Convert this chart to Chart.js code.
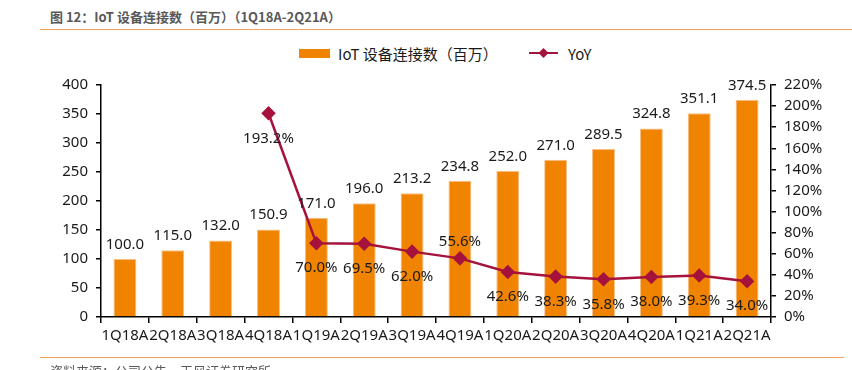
<!DOCTYPE html>
<html>
<head>
<meta charset="utf-8">
<script src="https://cdn.jsdelivr.net/npm/chart.js@4"></script>
<style>
  html, body { margin: 0; padding: 0; background: #fff; }
  #wrap { position: relative; width: 852px; height: 370px; overflow: hidden;
    font-family: "Noto Sans", "Noto Sans CJK SC", sans-serif; }
  #titulo { position: absolute; left: 50px; top: 7px; font-size: 13px; font-weight: bold; color: #595959;
    font-family: "Noto Sans CJK SC", sans-serif; }
  .linha { position: absolute; left: 40px; right: 0; height: 1px; background: #F2A25C; }
  #fonte { position: absolute; left: 50px; top: 361px; font-size: 13px; color: #595959;
    font-family: "Noto Sans CJK SC", sans-serif; }
  #legenda { position: absolute; top: 42px; left: 299px; font-size: 15px; color: #1a1a1a;
    font-family: "Noto Sans CJK SC", sans-serif; display: flex; align-items: center; height: 22px; }
  #legenda .caixa { width: 31px; height: 9px; background: #F08300; margin-right: 8px; }
  #legenda svg { margin-left: 31px; margin-right: 10px; }
  canvas { position: absolute; left: 0; top: 0; }
</style>
</head>
<body>
<div id="wrap">
  <div id="titulo">图 12：IoT 设备连接数（百万）（1Q18A-2Q21A）</div>
  <div class="linha" style="top:29px"></div>
  <div id="legenda">
    <span class="caixa"></span><span>IoT 设备连接数（百万）</span>
    <svg width="29" height="12"><line x1="0" y1="6" x2="29" y2="6" stroke="#A5133D" stroke-width="2"/><polygon points="14.5,1 19.5,6 14.5,11 9.5,6" fill="#A5133D"/></svg>
    <span>YoY</span>
  </div>
  <canvas id="grafico" width="852" height="370"></canvas>
  <div class="linha" style="top:357px; right:8px"></div>
  <div id="fonte">资料来源：公司公告，天风证券研究所</div>
</div>
<script>
const trimestres = ["1Q18A","2Q18A","3Q18A","4Q18A","1Q19A","2Q19A","3Q19A","4Q19A","1Q20A","2Q20A","3Q20A","4Q20A","1Q21A","2Q21A"];
const conexoes = [100.0, 115.0, 132.0, 150.9, 171.0, 196.0, 213.2, 234.8, 252.0, 271.0, 289.5, 324.8, 351.1, 374.5];
const yoy = [null, null, null, 193.2, 70.0, 69.5, 62.0, 55.6, 42.6, 38.3, 35.8, 38.0, 39.3, 34.0];
const ticksEsquerda = [0, 50, 100, 150, 200, 250, 300, 350, 400];
const ticksDireita = [0, 20, 40, 60, 80, 100, 120, 140, 160, 180, 200, 220];

const corTexto = "#1a1a1a";
const fonteNum = "Noto Sans";

// rótulos de valor desenhados à mão (sem plugin externo)
const rotulos = {
  id: "rotulos",
  afterDatasetsDraw(chart) {
    const c = chart.ctx;
    c.save();
    c.fillStyle = corTexto;
    c.font = "15px '" + fonteNum + "'";
    c.textAlign = "center";
    const barras = chart.getDatasetMeta(1).data;
    barras.forEach((b, i) => {
      c.textBaseline = "bottom";
      c.fillText(conexoes[i].toFixed(1), b.x, b.y - 7);
    });
    const pontos = chart.getDatasetMeta(0).data;
    pontos.forEach((p, i) => {
      if (yoy[i] == null) return;
      const txt = yoy[i].toFixed(1) + "%";
      if (i === 7) {
        c.textBaseline = "bottom";
        c.fillText(txt, p.x, p.y - 9);
      } else {
        c.textBaseline = "middle";
        c.fillText(txt, p.x, p.y + 25);
      }
    });
    c.restore();
  }
};

const ctx = document.getElementById("grafico").getContext("2d");
const chart = new Chart(ctx, {
  data: {
    labels: trimestres,
    datasets: [
      {
        type: "line",
        label: "YoY",
        data: yoy,
        yAxisID: "y2",
        borderColor: "#A5133D",
        backgroundColor: "#A5133D",
        borderWidth: 2.5,
        pointStyle: "rectRot",
        pointRadius: 5.5,
        pointHoverRadius: 5.5,
        tension: 0,
        order: 0
      },
      {
        type: "bar",
        label: "IoT 设备连接数（百万）",
        data: conexoes,
        yAxisID: "y",
        backgroundColor: "#F08300",
        borderColor: "#F7C089",
        borderWidth: { left: 1, right: 1, top: 1, bottom: 0 },
        barPercentage: 0.48,
        categoryPercentage: 1,
        order: 1
      }
    ]
  },
  options: {
    responsive: false,
    animation: false,
    layout: { padding: { top: 85, bottom: 23, left: 0, right: 0 } },
    plugins: { legend: { display: false }, tooltip: { enabled: false } },
    scales: {
      x: {
        offset: true,
        grid: { offset: true, drawOnChartArea: false, drawTicks: true, tickLength: 6, color: "#000", lineWidth: 1.5 },
        border: { color: "#000", width: 1.5 },
        ticks: { color: corTexto, font: { family: fonteNum, size: 15 }, autoSkip: false, maxRotation: 0, padding: 4 },
        afterFit(s) { s.height = 30; }
      },
      y: {
        position: "left",
        min: 0, max: 400,
        afterBuildTicks(s) { s.ticks = ticksEsquerda.map(v => ({ value: v })); },
        grid: { drawOnChartArea: false, tickLength: 5, color: "#000", lineWidth: 1.5 },
        border: { color: "#000", width: 1.5 },
        ticks: { color: corTexto, font: { family: fonteNum, size: 15 }, padding: 8, autoSkip: false },
        afterFit(s) { s.width = 101; }
      },
      y2: {
        position: "right",
        min: 0, max: 220,
        afterBuildTicks(s) { s.ticks = ticksDireita.map(v => ({ value: v })); },
        grid: { drawOnChartArea: false, tickLength: 5, color: "#000", lineWidth: 1.5 },
        border: { color: "#000", width: 1.5 },
        ticks: { color: corTexto, font: { family: fonteNum, size: 15 }, padding: 8, autoSkip: false, callback: v => v + "%" },
        afterFit(s) { s.width = 81; }
      }
    }
  },
  plugins: [rotulos]
});
</script>
</body>
</html>
